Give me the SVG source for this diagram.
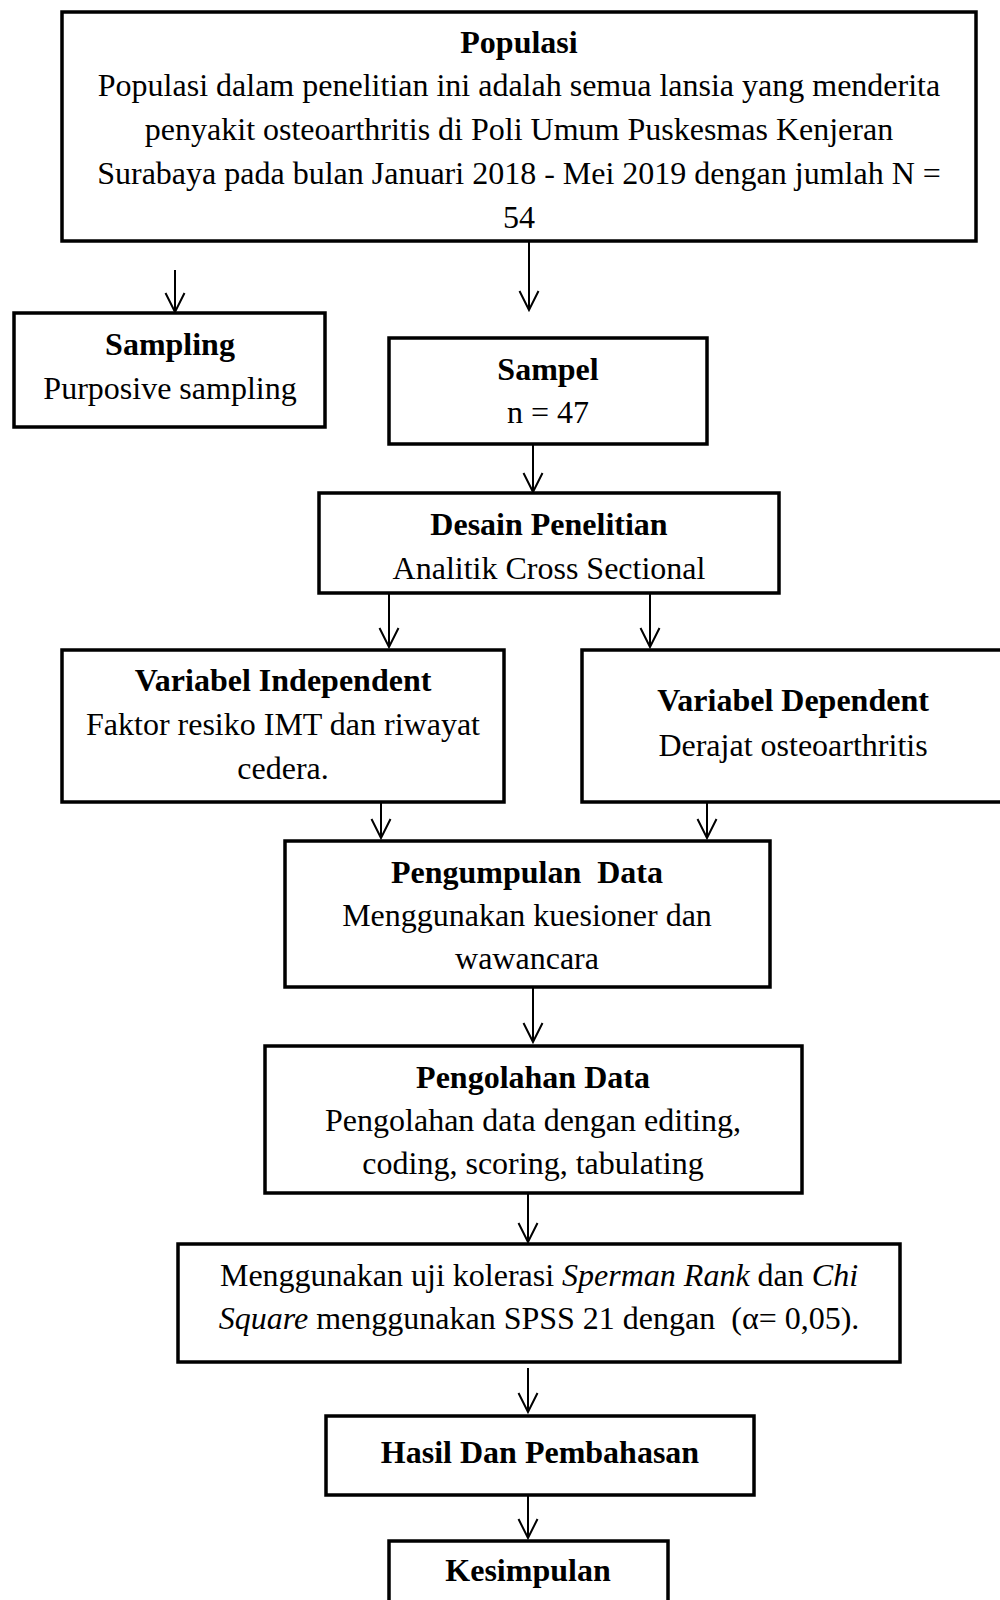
<svg xmlns="http://www.w3.org/2000/svg" width="1000" height="1600" viewBox="0 0 1000 1600">
<style>
.box{fill:#fff;stroke:#000;stroke-width:3.5}
text{font-family:"Liberation Serif","Times New Roman",serif;font-size:32px;fill:#000;text-anchor:middle}
.b{font-weight:bold}
.i{font-style:italic}
.c{stroke:#000;stroke-width:2;fill:none}
</style>
<defs>
<marker id="ah" markerUnits="userSpaceOnUse" viewBox="-1 -11 22 22" refX="19" refY="0" markerWidth="22" markerHeight="22" orient="auto">
<path d="M0,-9.5 L19,0 L0,9.5" fill="none" stroke="#000" stroke-width="2"/>
</marker>
</defs>
<rect width="1000" height="1600" fill="#fff"/>
<g id="connectors">
<line class="c" x1="175" y1="270" x2="175" y2="312" marker-end="url(#ah)"/>
<line class="c" x1="529" y1="242" x2="529" y2="310" marker-end="url(#ah)"/>
<line class="c" x1="533" y1="444" x2="533" y2="492" marker-end="url(#ah)"/>
<line class="c" x1="389" y1="593" x2="389" y2="647" marker-end="url(#ah)"/>
<line class="c" x1="650" y1="593" x2="650" y2="647" marker-end="url(#ah)"/>
<line class="c" x1="381" y1="802" x2="381" y2="838" marker-end="url(#ah)"/>
<line class="c" x1="707" y1="802" x2="707" y2="838" marker-end="url(#ah)"/>
<line class="c" x1="533" y1="987" x2="533" y2="1042" marker-end="url(#ah)"/>
<line class="c" x1="528" y1="1193" x2="528" y2="1242" marker-end="url(#ah)"/>
<line class="c" x1="528" y1="1368" x2="528" y2="1412" marker-end="url(#ah)"/>
<line class="c" x1="528" y1="1495" x2="528" y2="1538" marker-end="url(#ah)"/>
</g>
<g id="populasi">
<rect class="box" x="62" y="12" width="914" height="229"/>
<text class="b" x="519" y="53">Populasi</text>
<text x="519" y="96">Populasi dalam penelitian ini adalah semua lansia yang menderita</text>
<text x="519" y="140">penyakit osteoarthritis di Poli Umum Puskesmas Kenjeran</text>
<text x="519" y="184">Surabaya pada bulan Januari 2018 - Mei 2019 dengan jumlah N =</text>
<text x="519" y="228">54</text>
</g>
<g id="sampling">
<rect class="box" x="14" y="313" width="311" height="114"/>
<text class="b" x="170" y="355">Sampling</text>
<text x="170" y="399">Purposive sampling</text>
</g>
<g id="sampel">
<rect class="box" x="389" y="338" width="318" height="106"/>
<text class="b" x="548" y="380">Sampel</text>
<text x="548" y="423">n = 47</text>
</g>
<g id="desain">
<rect class="box" x="319" y="493" width="460" height="100"/>
<text class="b" x="549" y="535">Desain Penelitian</text>
<text x="549" y="579">Analitik Cross Sectional</text>
</g>
<g id="var-independent">
<rect class="box" x="62" y="650" width="442" height="152"/>
<text class="b" x="283" y="691">Variabel Independent</text>
<text x="283" y="735">Faktor resiko IMT dan riwayat</text>
<text x="283" y="779">cedera.</text>
</g>
<g id="var-dependent">
<rect class="box" x="582" y="650" width="430" height="152"/>
<text class="b" x="793" y="711">Variabel Dependent</text>
<text x="793" y="756">Derajat osteoarthritis</text>
</g>
<g id="pengumpulan">
<rect class="box" x="285" y="841" width="485" height="146"/>
<text class="b" x="527" y="883" xml:space="preserve">Pengumpulan  Data</text>
<text x="527" y="926">Menggunakan kuesioner dan</text>
<text x="527" y="969">wawancara</text>
</g>
<g id="pengolahan">
<rect class="box" x="265" y="1046" width="537" height="147"/>
<text class="b" x="533" y="1088">Pengolahan Data</text>
<text x="533" y="1131">Pengolahan data dengan editing,</text>
<text x="533" y="1174">coding, scoring, tabulating</text>
</g>
<g id="uji">
<rect class="box" x="178" y="1244" width="722" height="118"/>
<text x="539" y="1286">Menggunakan uji kolerasi <tspan class="i">Sperman Rank</tspan> dan <tspan class="i">Chi</tspan></text>
<text x="539" y="1329" xml:space="preserve"><tspan class="i">Square</tspan> menggunakan SPSS 21 dengan  (α= 0,05).</text>
</g>
<g id="hasil">
<rect class="box" x="326" y="1416" width="428" height="79"/>
<text class="b" x="540" y="1463">Hasil Dan Pembahasan</text>
</g>
<g id="kesimpulan">
<rect class="box" x="389" y="1541" width="279" height="80"/>
<text class="b" x="528" y="1581">Kesimpulan</text>
</g>
</svg>
